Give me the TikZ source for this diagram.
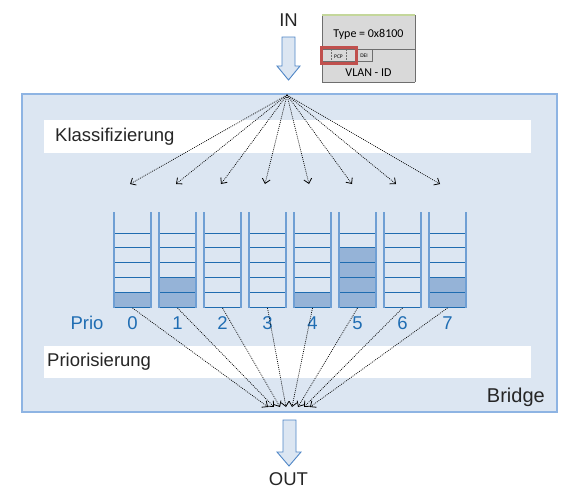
\documentclass[tikz,border=0pt]{standalone}
\usepackage{fontspec}
\setmainfont{Liberation Sans}
\newfontfamily\calfont{Carlito}
\usetikzlibrary{arrows.meta}
\definecolor{bridgefill}{HTML}{DCE6F2}
\definecolor{bridgeline}{HTML}{8EB4E3}
\definecolor{qline}{HTML}{1F6CB0}
\definecolor{qside}{HTML}{6F9FD4}
\definecolor{qfill}{HTML}{95B3D7}
\definecolor{priotext}{HTML}{1F6DB3}
\definecolor{txt}{HTML}{262626}
\definecolor{arrline}{HTML}{4F86C6}
\definecolor{hdrfill}{HTML}{D9D9D9}
\definecolor{hdrline}{HTML}{6E6E6E}
\definecolor{pcpred}{HTML}{C0504D}
\definecolor{hdrtop}{HTML}{C4D79B}
\tikzset{
  lbl/.style={font=\fontsize{18.5}{20}\selectfont, text=txt, inner sep=0pt},
  prio/.style={font=\fontsize{18.5}{20}\selectfont, text=priotext, inner sep=0pt},
  dotarrow/.style={draw=black, line width=0.7pt, dash pattern=on 0.9pt off 1.1pt, -{Straight Barb[length=4.5pt,width=8pt,line width=0.8pt]}},
  band/.style={fill=white, draw=none},
  blockarrow/.style={fill=bridgefill, draw=arrline, line width=0.9pt, line join=miter},
  hline/.style={draw=qline, line width=1pt},
  vline/.style={draw=qside, line width=1.2pt},
  hdr/.style={font=\calfont\fontsize{12}{13}\selectfont, text=black, inner sep=0pt},
  tiny/.style={font=\calfont\fontsize{5.5}{6}\selectfont, text=black, inner sep=0pt}
}
\begin{document}
\begin{tikzpicture}[x=1pt,y=-1pt]
\useasboundingbox (0,0) rectangle (573,499);
% bridge box
\node[draw=bridgeline, fill=bridgefill, line width=1.2pt, minimum width=535pt, minimum height=318pt, inner sep=0pt] (bridge) at (289.5,253) {};
% bands
\fill[band] (44,120) rectangle (531,153);
\fill[band] (44,346) rectangle (531,378);
\node[lbl, anchor=west] (klass) at (55,136.5) {Klassifizierung};
\node[lbl, anchor=west] (prior) at (47,362) {Priorisierung};
\node[lbl, anchor=east, font=\fontsize{20}{22}\selectfont] (brlbl) at (545,397) {Bridge};
% IN arrow
\node[lbl] (in) at (288.5,20) {IN};
\draw[blockarrow] (282,37) -- (295,37) -- (295,66) -- (300,66) -- (288.5,80) -- (277,66) -- (282,66) -- cycle;
% OUT arrow
\draw[blockarrow] (283,420) -- (296,420) -- (296,452) -- (301,452) -- (289,466) -- (277,452) -- (283,452) -- cycle;
\node[lbl] (out) at (288.5,479) {OUT};
% header graphic
\fill[hdrfill] (322,15) rectangle (415,82);
\draw[hdrline, line width=0.6pt] (322,15) -- (322,82) (415,15) -- (415,82) (322,82) -- (415,82) (322,49) -- (415,49);
\draw[hdrtop, line width=1.2pt] (322,15) -- (415,15);
\node[hdr] (type) at (368.5,34) {Type = 0x8100};
\draw[hdrline, line width=0.5pt] (322,61) -- (356,61) -- (356,49);
\draw[hdrline, line width=0.5pt] (356,61) -- (372,61) -- (372,49);
\draw[hdrline, line width=0.4pt, dash pattern=on 1.5pt off 1.5pt] (331,49) -- (331,61) (346,49) -- (346,61);
\node[tiny] (pcp) at (338.5,56.5) {PCP};
\node[tiny] (dei) at (364,55.5) {DEI};
\node[draw=pcpred, line width=2.4pt, minimum width=35pt, minimum height=16pt, inner sep=0pt] (pcpbox) at (339,55.5) {};
\node[hdr] (vlan) at (368.5,73) {VLAN - ID};
% source point
\coordinate (src) at (287,95);
% queues
\foreach \i/\n in {0/1,1/2,2/0,3/0,4/1,5/4,6/0,7/2} {
  \pgfmathsetmacro{\xa}{114+45*\i}
  \pgfmathsetmacro{\xb}{\xa+37}
  \pgfmathsetmacro{\xc}{\xa+18.5}
  \ifnum\n>0
    \fill[qfill] (\xa,{307-14.8*\n}) rectangle (\xb,307);
  \fi
  \foreach \k in {0,...,5} {
    \draw[hline] (\xa,{233+14.8*\k}) -- (\xb,{233+14.8*\k});
  }
  \draw[vline] (\xa,212) -- (\xa,307.5) (\xb,212) -- (\xb,307.5);
  \coordinate (q\i) at (\xc,308);
  \node[prio] (p\i) at (\xc,323) {\i};
}
\node[prio] (priolbl) at (87,323) {Prio};
% classification arrows
\foreach \i/\x in {0/130,1/176,2/221,3/265,4/309,5/352,6/396,7/440} {
  \coordinate (t\i) at (\x,184);
  \draw[dotarrow] (src) -- (t\i);
}
% prioritisation arrows
\foreach \i/\x in {0/268,1/274,2/280,3/286,4/292,5/298,6/304,7/310} {
  \coordinate (s\i) at (\x,407);
  \draw[dotarrow] (q\i) -- (s\i);
}
\end{tikzpicture}
\end{document}
